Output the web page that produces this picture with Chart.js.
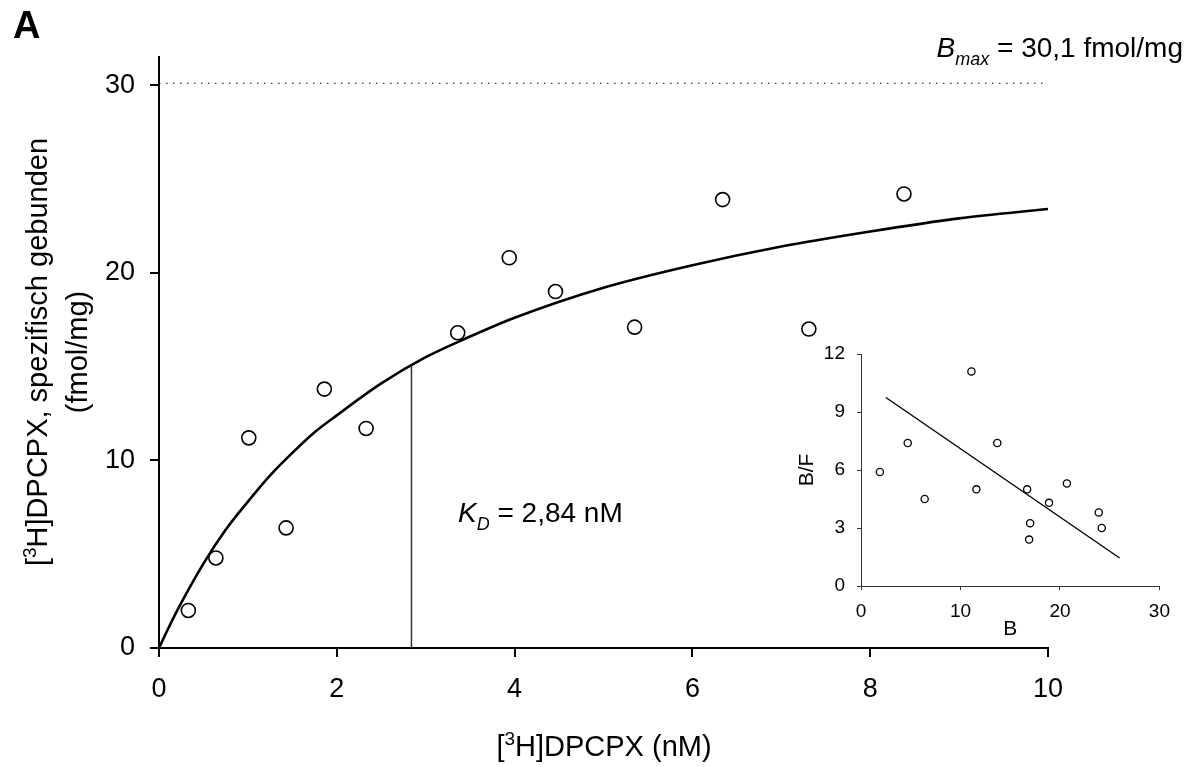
<!DOCTYPE html>
<html>
<head>
<meta charset="utf-8">
<script src="https://cdn.jsdelivr.net/npm/chart.js@4.4.1/dist/chart.umd.min.js"></script>
<style>
  html, body { margin: 0; padding: 0; background: #fff; }
  #wrap { position: relative; width: 1195px; height: 767px; }
  #main { position: absolute; left: 0; top: 0; }
  #inset { position: absolute; left: 790px; top: 330px; }
</style>
</head>
<body>
<div id="wrap">
  <canvas id="main" width="1195" height="767"></canvas>
  <canvas id="inset" width="390" height="320"></canvas>
</div>
<script>
// saturation binding of [3H]DPCPX
const concNM = [0.33, 0.64, 1.01, 1.43, 1.86, 2.33, 3.36, 3.94, 4.46, 5.35, 6.34, 7.31, 8.38];
const boundFmol = [2.0, 4.8, 11.2, 6.4, 13.8, 11.7, 16.8, 20.8, 19.0, 17.1, 23.9, 17.0, 24.2];

// fitted hyperbola
const fitX = [0, 0.1, 0.25, 0.5, 0.75, 1, 1.25, 1.5, 1.75, 2, 2.5, 3, 3.5, 4, 5, 6, 7, 8, 9, 10];
const fitY = [0, 1.0, 2.4, 4.5, 6.3, 7.8, 9.2, 10.4, 11.5, 12.4, 14.1, 15.5, 16.6, 17.6, 19.2, 20.4, 21.4, 22.2, 22.9, 23.4];

const bmax = 30.1;
const kd = 2.84;
const kdHalf = 15.05;
const xTicks = [0, 2, 4, 6, 8, 10];
const yTicks = [0, 10, 20, 30];

// Scatchard inset
const scatB = [1.9, 4.7, 6.4, 11.1, 11.6, 13.7, 16.7, 17.0, 16.9, 18.9, 20.7, 23.9, 24.2];
const scatBF = [5.9, 7.4, 4.5, 11.1, 5.0, 7.4, 5.0, 3.25, 2.4, 4.3, 5.3, 3.8, 3.0];
const regB = [2.5, 26];
const regBF = [9.75, 1.45];
const insetXTicks = [0, 10, 20, 30];
const insetYTicks = [0, 3, 6, 9, 12];

const FAM = '"Liberation Sans", Arial, sans-serif';
const fnt = (size, style) => `${style || ''} ${size}px ${FAM}`;

function toPts(xs, ys) {
  return xs.map((x, i) => ({ x: x, y: ys[i] }));
}

// draws a run of differently styled pieces on one baseline
function runs(ctx, parts, x, y, align) {
  let w = 0;
  parts.forEach(p => { ctx.font = p.font; p.w = ctx.measureText(p.t).width; w += p.w; });
  let cx = align === 'center' ? x - w / 2 : align === 'right' ? x - w : x;
  parts.forEach(p => {
    ctx.font = p.font;
    ctx.fillText(p.t, cx, y + (p.dy || 0));
    cx += p.w;
  });
}

const textPlugin = {
  id: 'texts',
  afterDraw(chart) {
    const ctx = chart.ctx;
    ctx.save();
    ctx.fillStyle = '#000';
    ctx.textAlign = 'left';
    ctx.textBaseline = 'alphabetic';

    ctx.font = 'bold 38px ' + FAM;
    ctx.fillText('A', 13, 38);

    runs(ctx, [
      { t: 'B', font: fnt(28, 'italic') },
      { t: 'max', font: fnt(18, 'italic'), dy: 8 },
      { t: ' = 30,1 fmol/mg', font: fnt(28) }
    ], 1183, 57, 'right');

    runs(ctx, [
      { t: 'K', font: fnt(28, 'italic') },
      { t: 'D', font: fnt(18, 'italic'), dy: 8 },
      { t: ' = 2,84 nM', font: fnt(28) }
    ], 458, 522, 'left');

    // x axis title
    runs(ctx, [
      { t: '[', font: fnt(29) },
      { t: '3', font: fnt(19), dy: -11 },
      { t: 'H]DPCPX (nM)', font: fnt(29) }
    ], 604, 756, 'center');

    // y axis title, two lines
    ctx.save();
    ctx.translate(47, 352);
    ctx.rotate(-Math.PI / 2);
    runs(ctx, [
      { t: '[', font: fnt(29) },
      { t: '3', font: fnt(19), dy: -11 },
      { t: 'H]DPCPX, spezifisch gebunden', font: fnt(29) }
    ], 0, 0, 'center');
    ctx.restore();
    ctx.save();
    ctx.translate(87, 352);
    ctx.rotate(-Math.PI / 2);
    runs(ctx, [{ t: '(fmol/mg)', font: fnt(29) }], 0, 0, 'center');
    ctx.restore();

    ctx.restore();
  }
};

new Chart(document.getElementById('main'), {
  type: 'scatter',
  data: {
    datasets: [
      {
        label: 'Bmax',
        type: 'line',
        data: toPts([0, 10], [bmax, bmax]),
        borderColor: '#000',
        borderWidth: 1.2,
        borderDash: [1.5, 5.5],
        pointRadius: 0
      },
      {
        label: 'KD',
        type: 'line',
        data: toPts([kd, kd], [0, kdHalf]),
        borderColor: '#333',
        borderWidth: 1.5,
        pointRadius: 0
      },
      {
        label: 'fit',
        type: 'line',
        data: toPts(fitX, fitY),
        borderColor: '#000',
        borderWidth: 2.6,
        pointRadius: 0,
        cubicInterpolationMode: 'monotone'
      },
      {
        label: 'data',
        data: toPts(concNM, boundFmol),
        pointRadius: 7,
        pointBorderWidth: 1.6,
        pointBackgroundColor: '#fff',
        pointBorderColor: '#000'
      }
    ]
  },
  options: {
    responsive: false,
    animation: false,
    layout: { padding: { left: 0, right: 147, top: 57, bottom: 0 } },
    plugins: { legend: { display: false }, tooltip: { enabled: false } },
    scales: {
      x: {
        type: 'linear',
        min: 0,
        max: 10,
        afterBuildTicks: s => { s.ticks = xTicks.map(v => ({ value: v })); },
        afterFit: s => { s.height = 119; },
        border: { display: true, color: '#000', width: 2 },
        grid: { display: true, drawOnChartArea: false, drawTicks: true, tickLength: 9, color: '#000', lineWidth: 2 },
        ticks: { color: '#000', font: { family: FAM, size: 27 }, padding: 16, maxRotation: 0 }
      },
      y: {
        type: 'linear',
        min: 0,
        max: 31.5,
        afterBuildTicks: s => { s.ticks = yTicks.map(v => ({ value: v })); },
        afterFit: s => { s.width = 159; },
        border: { display: true, color: '#000', width: 2 },
        grid: { display: true, drawOnChartArea: false, drawTicks: true, tickLength: 9, color: '#000', lineWidth: 2 },
        ticks: { color: '#000', font: { family: FAM, size: 27 }, padding: 15 }
      }
    }
  },
  plugins: [textPlugin]
});

new Chart(document.getElementById('inset'), {
  type: 'scatter',
  data: {
    datasets: [
      {
        label: 'regression',
        type: 'line',
        data: toPts(regB, regBF),
        borderColor: '#000',
        borderWidth: 1.4,
        pointRadius: 0
      },
      {
        label: 'Scatchard',
        data: toPts(scatB, scatBF),
        pointRadius: 3.6,
        pointBorderWidth: 1.3,
        pointBackgroundColor: '#fff',
        pointBorderColor: '#000'
      }
    ]
  },
  options: {
    responsive: false,
    animation: false,
    layout: { padding: { left: 0, right: 17, top: 24, bottom: 0 } },
    plugins: { legend: { display: false }, tooltip: { enabled: false } },
    scales: {
      x: {
        type: 'linear',
        min: 0,
        max: 30,
        afterBuildTicks: s => { s.ticks = insetXTicks.map(v => ({ value: v })); },
        afterFit: s => { s.height = 64; },
        border: { display: true, color: '#333', width: 1 },
        grid: { display: true, drawOnChartArea: false, drawTicks: true, tickLength: 4, color: '#333', lineWidth: 1 },
        ticks: { color: '#000', font: { family: FAM, size: 19 }, padding: 10, maxRotation: 0 },
        title: { display: true, text: 'B', color: '#000', font: { family: FAM, size: 21 }, padding: { top: 0, bottom: 8 } }
      },
      y: {
        type: 'linear',
        min: 0,
        max: 12,
        afterBuildTicks: s => { s.ticks = insetYTicks.map(v => ({ value: v })); },
        afterFit: s => { s.width = 71; },
        border: { display: true, color: '#333', width: 1 },
        grid: { display: true, drawOnChartArea: false, drawTicks: true, tickLength: 4, color: '#333', lineWidth: 1 },
        ticks: { color: '#000', font: { family: FAM, size: 19 }, padding: 12 },
        title: { display: true, text: 'B/F', color: '#000', font: { family: FAM, size: 21 }, padding: { top: 5, bottom: 0 } }
      }
    }
  }
});
</script>
</body>
</html>
